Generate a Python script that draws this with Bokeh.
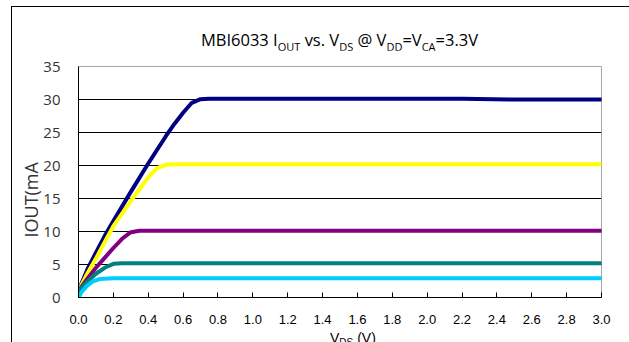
from bokeh.plotting import figure
from bokeh.models import Range1d, FixedTicker, CustomJSTickFormatter, Div, Title
from bokeh.layouts import column
from bokeh.embed import file_html
from bokeh.resources import INLINE

# ---- data ----
x_ticks = [0.0, 0.2, 0.4, 0.6, 0.8, 1.0, 1.2, 1.4, 1.6, 1.8, 2.0, 2.2, 2.4, 2.6, 2.8, 3.0]
y_ticks = [0, 5, 10, 15, 20, 25, 30, 35]

vds_30 = [0, 0.05, 0.1, 0.15, 0.2, 0.3, 0.4, 0.5, 0.55, 0.6, 0.65, 0.7, 0.75, 1.0, 1.5, 2.0, 2.2, 2.5, 3.0]
iout_30 = [1.0, 4.2, 6.8, 9.3, 11.6, 16.0, 20.3, 24.4, 26.3, 28.0, 29.5, 30.05, 30.1, 30.1, 30.1, 30.1, 30.1, 30.0, 30.0]

vds_20 = [0, 0.05, 0.1, 0.15, 0.2, 0.3, 0.4, 0.45, 0.5, 0.55, 1.0, 2.0, 3.0]
iout_20 = [1.0, 3.6, 5.9, 8.4, 10.8, 14.6, 18.2, 19.6, 20.1, 20.2, 20.2, 20.2, 20.2]

vds_10 = [0, 0.05, 0.1, 0.15, 0.2, 0.25, 0.3, 0.35, 0.5, 1.0, 2.0, 3.0]
iout_10 = [1.0, 2.8, 4.5, 6.0, 7.5, 8.9, 9.9, 10.1, 10.1, 10.1, 10.1, 10.1]

vds_5 = [0, 0.05, 0.1, 0.15, 0.2, 0.25, 0.5, 1.0, 2.0, 3.0]
iout_5 = [1.0, 2.4, 3.6, 4.5, 5.1, 5.2, 5.2, 5.2, 5.2, 5.2]

vds_3 = [0, 0.02, 0.05, 0.08, 0.12, 0.2, 0.5, 1.0, 2.0, 3.0]
iout_3 = [0.0, 0.9, 1.8, 2.4, 2.8, 2.9, 2.9, 2.9, 2.9, 2.9]

series = [
    (vds_30, iout_30, "#000080"),
    (vds_20, iout_20, "#FFFF00"),
    (vds_10, iout_10, "#800080"),
    (vds_5, iout_5, "#008080"),
    (vds_3, iout_3, "#00CCFF"),
]

TF = "Open Sans"

title = Div(
    text=('MBI6033 I<span style="font-size:11px;vertical-align:-5px">OUT</span> vs. '
          'V<span style="font-size:11px;vertical-align:-5px">DS</span> @ '
          'V<span style="font-size:11px;vertical-align:-5px">DD</span>=V'
          '<span style="font-size:11px;vertical-align:-5px">CA</span>=3.3V'),
    width=523, height=20, margin=(23, 0, 0, 66),
    styles={"font-family": TF, "font-size": "16.5px", "color": "#000000",
            "text-align": "center", "white-space": "nowrap", "line-height": "20px"},
)

p = figure(width=617, height=280, output_backend="svg", toolbar_location=None,
           x_range=Range1d(0, 3), y_range=Range1d(0, 35),
           min_border_left=66, min_border_right=28, min_border_top=16, min_border_bottom=33,
           background_fill_color="white", border_fill_color="white")
p.margin = (0, 0, 0, 0)
p.outline_line_color = "#A6A6A6"
p.outline_line_width = 1

for xs, ys, c in series:
    p.line(xs, ys, line_color=c, line_width=4, line_join="round", line_cap="round")

# axes
p.xaxis.ticker = FixedTicker(ticks=x_ticks)
p.xaxis.formatter = CustomJSTickFormatter(code="return tick.toFixed(1);")
p.xaxis.major_tick_in = 5
p.xaxis.major_tick_out = 0
p.xaxis.minor_tick_line_color = None
p.xaxis.axis_line_color = "#000000"
p.xaxis.major_tick_line_color = "#000000"
p.xaxis.major_label_text_font = "Liberation Sans"
p.xaxis.major_label_text_font_size = "13px"
p.xaxis.major_label_text_color = "#000000"
p.xaxis.major_label_standoff = 17

p.yaxis.ticker = FixedTicker(ticks=y_ticks)
p.yaxis.major_tick_in = 0
p.yaxis.major_tick_out = 0
p.yaxis.minor_tick_line_color = None
p.yaxis.axis_line_color = "#000000"
p.yaxis.major_label_text_font = TF
p.yaxis.major_label_text_font_size = "15px"
p.yaxis.major_label_text_color = "#333333"
p.yaxis.major_label_standoff = 18

# y-axis title as a left-side Title (rotated text)
ytitle = Title(text="IOUT(mA", text_font=TF, text_font_size="18px",
               text_font_style="normal", text_color="#333333",
               align="left", offset=60, standoff=-5)
p.add_layout(ytitle, "left")

p.xgrid.grid_line_color = None
p.ygrid.ticker = FixedTicker(ticks=[5, 10, 15, 20, 25, 30])
p.ygrid.grid_line_color = "#000000"
p.ygrid.grid_line_width = 1

xlabel = Div(
    text='V<span style="font-size:10px;vertical-align:-3px">DS</span> (V)',
    width=120, height=12, margin=(0, 0, 0, 318),
    styles={"font-family": "Liberation Sans", "font-size": "14px", "color": "#000000",
            "white-space": "nowrap", "line-height": "16px", "overflow": "hidden"},
)

layout = column(title, p, xlabel, spacing=0)
layout.margin = (6, 0, 0, 11)
layout.styles = {"border-left": "1px solid #000000", "border-top": "1px solid #000000"}

open("out.html", "w").write(file_html(layout, INLINE))
